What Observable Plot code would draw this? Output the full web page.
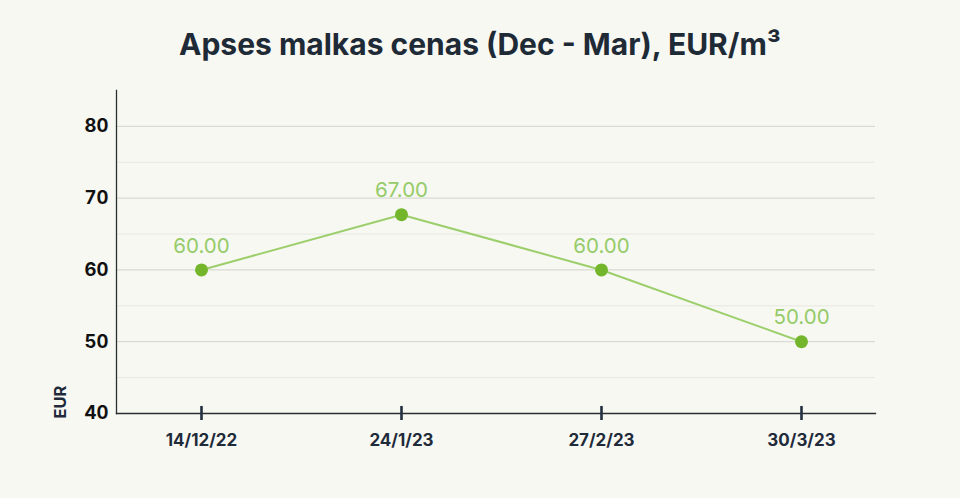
<!DOCTYPE html>
<html>
<head>
<meta charset="utf-8">
<script src="https://cdn.jsdelivr.net/npm/d3@7"></script>
<script src="https://cdn.jsdelivr.net/npm/@observablehq/plot@0.6"></script>
<style>
  html, body { margin: 0; padding: 0; background: #f7f8f2; }
  #title { height: 80px; line-height: 88px; text-align: center; font-family: Inter, "Open Sans", sans-serif; font-weight: 700; font-size: 30px; color: #1f2a37; }
  #chart svg { display: block; }
</style>
</head>
<body>
<div id="title">Apses malkas cenas (Dec - Mar), EUR/m³</div>
<div id="chart"></div>
<script>
const dates = ["14/12/22", "24/1/23", "27/2/23", "30/3/23"];
const prices = [60, 67.7, 60, 50];
const priceLabels = ["60.00", "67.00", "60.00", "50.00"];
const majorTicks = [40, 50, 60, 70, 80];
const minorTicks = [45, 55, 65, 75];
const yLabel = "EUR";

const data = dates.map((d, i) => ({date: d, price: prices[i], label: priceLabels[i]}));

const chart = Plot.plot({
  width: 960,
  height: 418,
  marginTop: 10,
  marginBottom: 85,
  marginLeft: 116,
  marginRight: 85,
  style: {background: "transparent", fontFamily: "Inter, 'Open Sans', sans-serif", overflow: "visible"},
  x: {type: "point", domain: dates, padding: 0, insetLeft: 84, insetRight: 74},
  y: {domain: [40, 85]},
  marks: [
    Plot.ruleY(minorTicks, {stroke: "#e6e7e0", strokeWidth: 1}),
    Plot.ruleY(majorTicks.filter(t => t > 40), {stroke: "#d9dad3", strokeWidth: 1.2}),
    Plot.frame({anchor: "left", stroke: "#2b2f33", strokeWidth: 1.3}),
    Plot.frame({anchor: "bottom", stroke: "#2b2f33", strokeWidth: 1.3}),
    Plot.axisY({ticks: majorTicks, tickSize: 0, tickPadding: 8, fontSize: 18.5, fontWeight: 700, fill: "#111", label: null}),
    Plot.axisX({tickSize: 14, dy: -7, stroke: "#243042", strokeWidth: 2.6, fill: "none", label: null}),
    Plot.axisX({tickSize: 0, tickPadding: 20, fontSize: 17, fontWeight: 700, fill: "#1f2a3a", label: null}),
    Plot.text([yLabel], {frameAnchor: "bottom-left", rotate: -90, textAnchor: "start", dx: -51, dy: 5, fontSize: 16.5, fontWeight: 700, fill: "#1f2a3a"}),
    Plot.line(data, {x: "date", y: "price", stroke: "#9ccf6b", strokeWidth: 2}),
    Plot.dot(data, {x: "date", y: "price", r: 6.5, fill: "#74b62b", stroke: "none"}),
    Plot.text(data, {x: "date", y: "price", text: "label", dy: -24, fontSize: 20.5, fill: "#95cb68"})
  ]
});
document.getElementById("chart").appendChild(chart);
</script>
</body>
</html>
